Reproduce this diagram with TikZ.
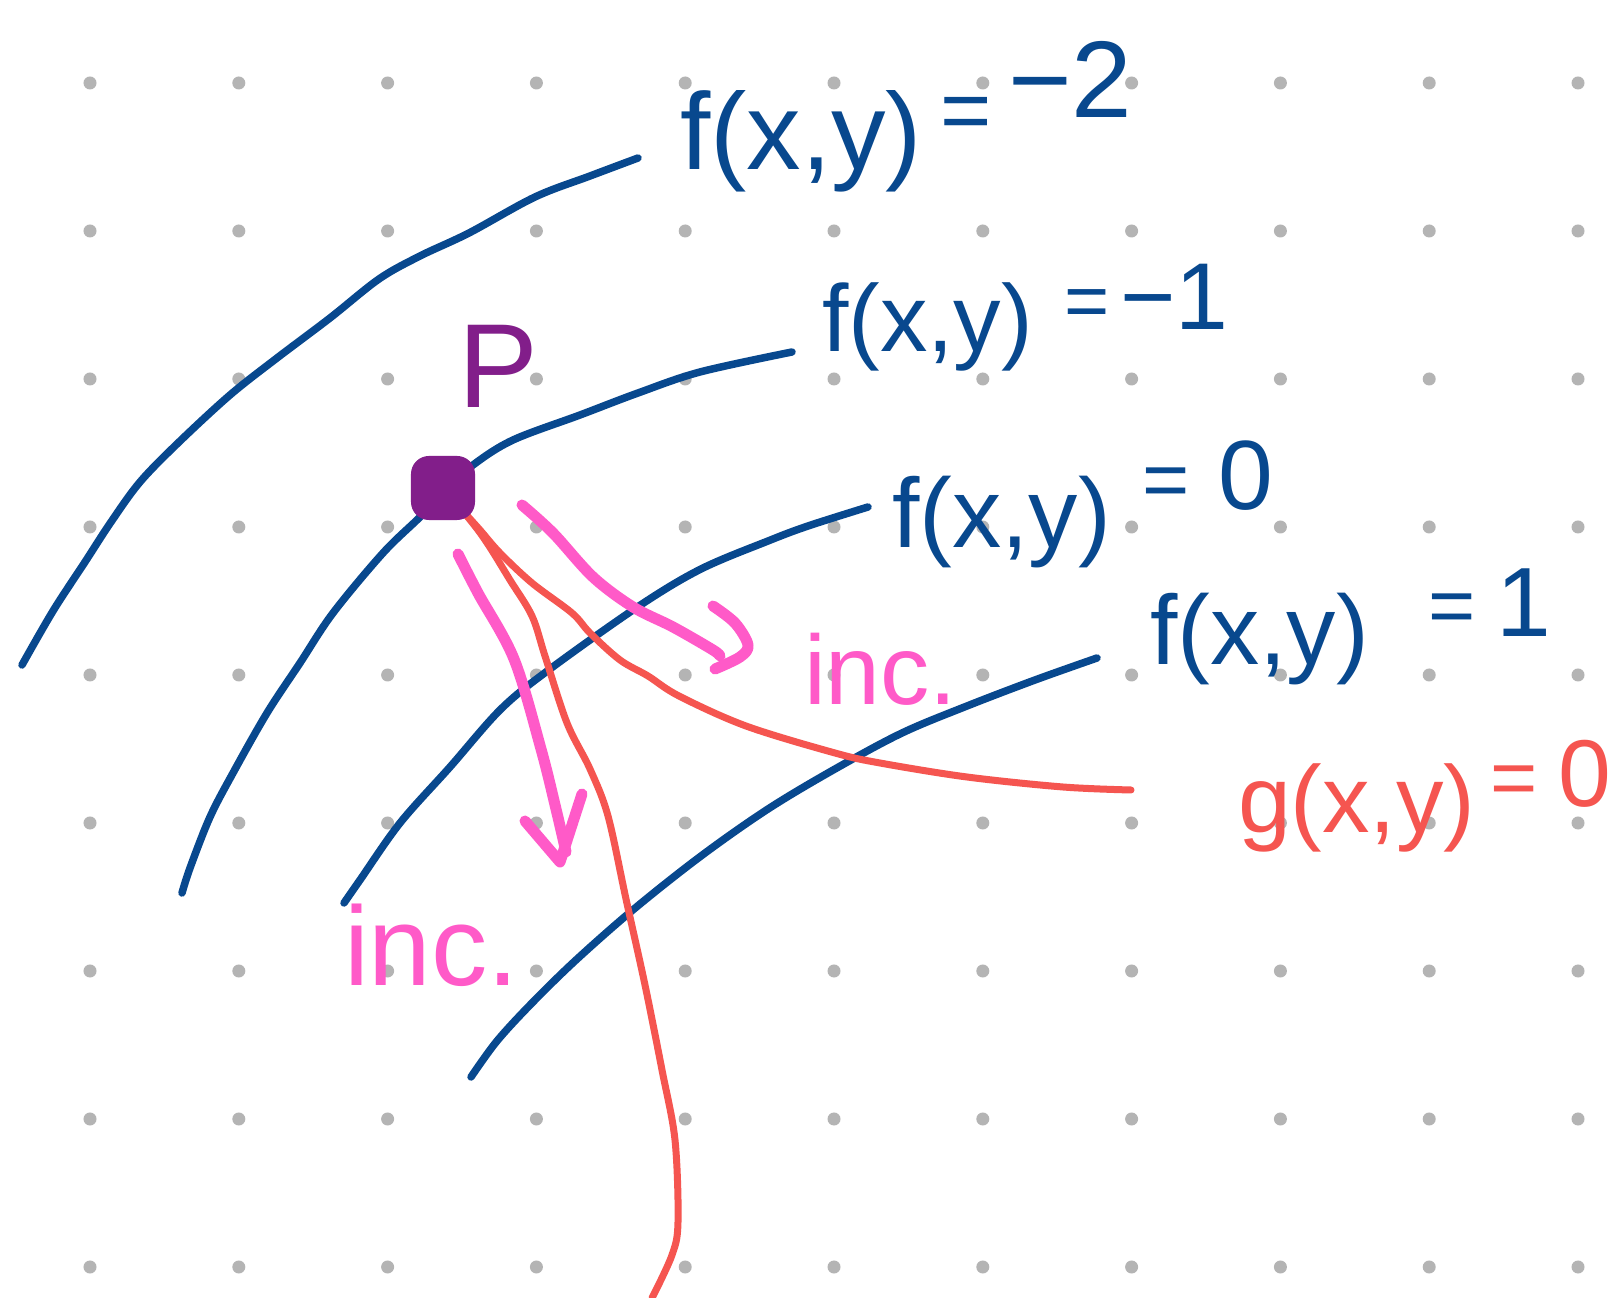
\documentclass[tikz,border=0pt]{standalone}
\usepackage{fontspec}
\setmainfont{Liberation Sans}
\newfontfamily\hand{Liberation Sans}
\newcommand{\hsz}[1]{\fontsize{#1}{#1}\selectfont}
\definecolor{cblue}{RGB}{8,72,142}
\definecolor{cred}{RGB}{245,85,80}
\definecolor{cpink}{RGB}{255,90,200}
\definecolor{cpurple}{RGB}{130,30,138}
\definecolor{cdot}{RGB}{180,180,180}
\tikzset{
  blueline/.style={draw=cblue, line width=0.075cm, line cap=round, line join=round},
  redline/.style={draw=cred, line width=0.07cm, line cap=round, line join=round},
  pinkline/.style={draw=cpink, line width=0.11cm, line cap=round, line join=round},
  lbl/.style={inner sep=0pt, outer sep=0pt, anchor=base west, font=\hand},
  bl/.style={lbl, text=cblue},
  rl/.style={lbl, text=cred},
}
\begin{document}
\begin{tikzpicture}[x=0.01cm, y=-0.01cm]
\fill[white] (0,0) rectangle (1624,1298);
\useasboundingbox (0,0) rectangle (1624,1298);
% dot grid
\foreach \i in {0,...,10} {
  \foreach \j in {0,...,8} {
    \fill[cdot] (90+148.8*\i, 83+148*\j) circle[radius=0.065cm];
  }
}
% level curves f
\draw[blueline] plot[smooth, tension=0.55] coordinates {(22,665) (53,611) (85,562) (111,522) (140,482) (178,443) (230,395) (277,358) (330,318) (379,279) (420,256) (469,233) (535,197) (590,176) (638,158)};
\draw[blueline] plot[smooth, tension=0.55] coordinates {(182,893) (190,868) (210,817) (233,773) (267,713) (300,663) (333,613) (383,553) (420,517) (443,492) (473,465) (513,440) (580,415) (638,393) (700,372) (792,352)};
\draw[blueline] plot[smooth, tension=0.55] coordinates {(344,903) (360,880) (400,823) (450,767) (501,709) (550,669) (639,606) (701,569) (768,541) (808,526) (868,507)};
\draw[blueline] plot[smooth, tension=0.55] coordinates {(471,1077) (497,1041) (532,1003) (576,960) (634,909) (701,856) (768,809) (835,769) (902,733) (967,706) (1035,680) (1097,658)};
% constraint curve g
\draw[redline] plot[smooth, tension=0.55] coordinates {(462,510) (478,530) (491,549) (510,580) (532,616) (545,656) (567,723) (590,769) (608,816) (626,899) (645,985) (662,1070) (675,1140) (678,1222) (672,1255) (652,1298)};
\draw[redline] plot[smooth, tension=0.55] coordinates {(462,510) (480,530) (500,553) (532,583) (572,613) (590,633) (620,660) (648,676) (679,696) (746,726) (835,753) (880,763) (967,777) (1063,787) (1131,790)};
% point P
\node[fill=cpurple, draw=none, minimum width=0.64cm, minimum height=0.64cm, rounded corners=0.18cm, inner sep=0pt] (Pdot) at (443,488) {};
\node[lbl, text=cpurple, font=\hand\hsz{34}] (Plbl) at (458,408) {P};
% pink arrows
\coordinate (a1s) at (458,554);
\coordinate (a1t) at (560,862);
\draw[pinkline] plot[smooth, tension=0.55] coordinates {(a1s) (478,593) (514,659) (541,749) (556,809) (566,852)};
\draw[pinkline] (525,821) -- (a1t) -- (582,794);
\coordinate (a2s) at (522,505);
\draw[pinkline] plot[smooth, tension=0.55] coordinates {(a2s) (553,533) (593,577) (633,607) (673,627) (713,650) (720,656)};
\draw[pinkline] plot[smooth, tension=0.55] coordinates {(713,606) (735,623) (748,645) (740,657) (715,669)};
% labels: f = -2
\node[bl, font=\hand\hsz{31}] (Lm2a) at (680,170) {f(x,y)};
\node[bl, font=\hand\hsz{25}] (Lm2b) at (940,141) {=};
\node[bl, font=\hand\hsz{31}] (Lm2c) at (1008,118) {−2};
% f = -1
\node[bl, font=\hand\hsz{27}] (Lm1a) at (822,352) {f(x,y)};
\node[bl, font=\hand\hsz{22}] (Lm1b) at (1064,328) {=};
\node[bl, font=\hand\hsz{27}] (Lm1c) at (1120,330) {−1};
% f = 0
\node[bl, font=\hand\hsz{28}] (L0a) at (892,548) {f(x,y)};
\node[bl, font=\hand\hsz{23}] (L0b) at (1142,508) {=};
\node[bl, font=\hand\hsz{28}] (L0c) at (1218,510) {0};
% f = 1
\node[bl, font=\hand\hsz{28}] (L1a) at (1150,665) {f(x,y)};
\node[bl, font=\hand\hsz{23}] (L1b) at (1428,634) {=};
\node[bl, font=\hand\hsz{28}] (L1c) at (1496,637) {1};
% g = 0
\node[rl, font=\hand\hsz{27}] (Lga) at (1238,833) {g(x,y)};
\node[rl, font=\hand\hsz{23}] (Lgb) at (1490,806) {=};
\node[rl, font=\hand\hsz{27}] (Lgc) at (1558,807) {0};
% inc.
\node[lbl, text=cpink, font=\hand\hsz{28}] (inc1) at (804,705) {inc.};
\node[lbl, text=cpink, font=\hand\hsz{32}] (inc2) at (344,985) {inc.};
\end{tikzpicture}
\end{document}
